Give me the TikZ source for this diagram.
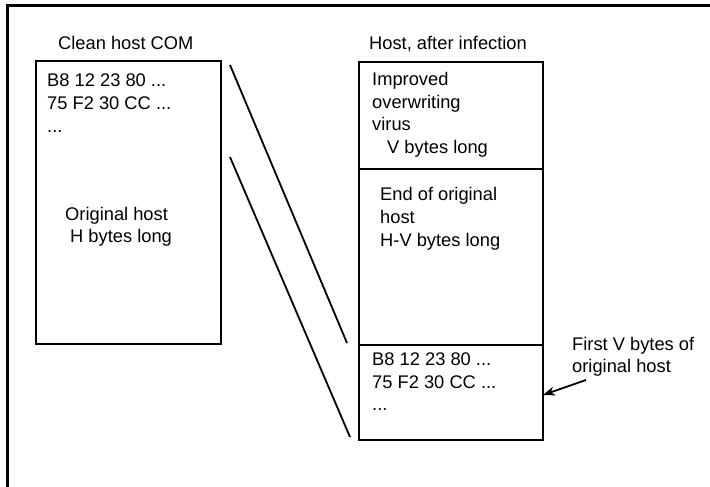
\documentclass[tikz,border=0pt]{standalone}
\usepackage{fontspec}
\setmainfont{Liberation Sans}
\usetikzlibrary{arrows.meta}
\begin{document}
\begin{tikzpicture}[x=1pt,y=-1pt,
  box/.style={draw, line width=2pt, anchor=north west, inner sep=0pt},
  txt/.style={anchor=base west, inner sep=0pt, font=\fontsize{18.3}{22}\selectfont},
  diag/.style={line width=1.8pt},
  frame/.style={line width=3pt}]
\useasboundingbox (0,0) rectangle (710,487);
% outer frame (top and left only)
\coordinate (fbl) at (7,487);
\coordinate (ftl) at (7,6);
\coordinate (ftr) at (710,6);
\draw[frame] (fbl) -- (ftl) -- (ftr);
% left box
\node[box, minimum width=185pt, minimum height=283pt] (clean) at (35,60) {};
\node[txt] (tclean) at (58,50) {Clean host COM};
\node[txt] (l1) at (47,86.5) {B8 12 23 80 ...};
\node[txt] (l2) at (47,109.5) {75 F2 30 CC ...};
\node[txt] (l3) at (47,132.5) {...};
\node[txt] (l4) at (65,220) {Original host};
\node[txt] (l5) at (70,242.5) {H bytes long};
% right box
\node[box, minimum width=184pt, minimum height=107pt] (virus) at (358,61) {};
\node[box, minimum width=184pt, minimum height=176pt] (endhost) at (358,168) {};
\node[box, minimum width=184pt, minimum height=95pt] (first) at (358,344) {};
\node[txt] (tinf) at (369,50) {Host, after infection};
\node[txt] (r1) at (372,86) {Improved};
\node[txt] (r2) at (372,108.5) {overwriting};
\node[txt] (r3) at (372,131) {virus};
\node[txt] (r4) at (387,153.5) {V bytes long};
\node[txt] (r5) at (380,200) {End of original};
\node[txt] (r6) at (380,223) {host};
\node[txt] (r7) at (380,246) {H-V bytes long};
\node[txt] (f1) at (372,365) {B8 12 23 80 ...};
\node[txt] (f2) at (372,388) {75 F2 30 CC ...};
\node[txt] (f3) at (372,410.5) {...};
\node[txt] (lab1) at (572,350) {First V bytes of};
\node[txt] (lab2) at (572,372) {original host};
% diagonal lines
\coordinate (d1a) at (230,65);
\coordinate (d1b) at (347,343);
\coordinate (d2a) at (230,157);
\coordinate (d2b) at (350,437);
\draw[diag] (d1a) -- (d1b);
\draw[diag] (d2a) -- (d2b);
% arrow
\coordinate (atail) at (586,380);
\coordinate (ahead) at (543,395);
\draw[line width=1.8pt, -{Stealth[length=12pt,width=9pt]}] (atail) -- (ahead);
\end{tikzpicture}
\end{document}
